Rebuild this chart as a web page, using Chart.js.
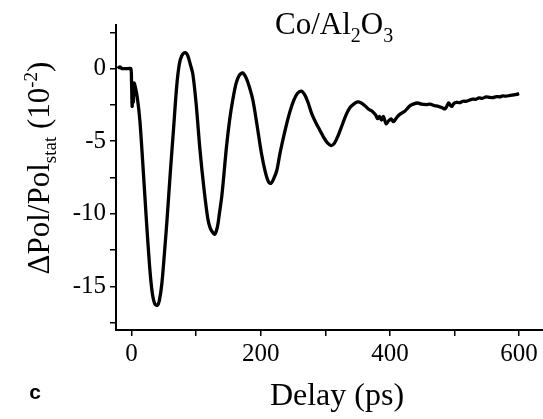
<!DOCTYPE html>
<html>
<head>
<meta charset="utf-8">
<script src="https://cdn.jsdelivr.net/npm/chart.js@4.4.1/dist/chart.umd.min.js"></script>
<style>
    body { margin: 0; background: #fff; }
    canvas { display: block; }
</style>
</head>
<body>
<canvas id="polChart" width="543" height="419"></canvas>
<script>
// delay in ps and the read-off signal (units of 10^-2)
const delayPs = [
    -21, -19, -17, -15, -10, -5, -1, 0, 1, 2, 3, 4, 6, 9, 13, 18, 23, 28, 32, 36,
    40, 43, 47, 51, 55, 60, 65, 70, 74, 78, 83, 87, 91, 95, 100, 106, 112, 118, 122, 126,
    129, 133, 136, 140, 147, 152, 157, 162, 167, 172, 177, 182, 188, 194, 201, 207, 212, 216, 220, 225,
    230, 238, 245, 251, 257, 263, 268, 273, 279, 285, 291, 297, 303, 309, 314, 320, 326, 332, 338, 344,
    350, 355, 361, 367, 373, 378, 381, 384, 387, 390, 394, 398, 402, 405, 407, 411, 415, 419, 423, 427,
    430, 436, 443, 449, 456, 462, 469, 475, 481, 485, 488, 491, 494, 496, 499, 503, 508, 513, 518, 523,
    528, 533, 538, 543, 549, 554, 559, 565, 570, 575, 580, 586, 591, 596, 600
];
const polChange = [
    0.0, 0.1, 0.1, 0.0, 0.0, 0.0, 0.0, -0.8, -2.6, -1.2, -2.3, -1.0, -1.3, -2.0, -3.6, -6.9, -10.4, -13.6, -15.4, -16.2,
    -16.3, -16.0, -14.8, -12.7, -10.4, -7.2, -4.2, -1.2, 0.3, 0.9, 1.1, 0.9, 0.3, -0.4, -2.4, -5.6, -8.2, -10.3, -11.0, -11.3,
    -11.4, -10.9, -10.0, -8.7, -5.4, -3.5, -2.1, -1.0, -0.45, -0.3, -0.6, -1.2, -2.2, -3.8, -5.8, -7.1, -7.8, -7.9, -7.6, -7.0,
    -5.8, -4.2, -3.0, -2.2, -1.7, -1.55, -1.8, -2.3, -3.1, -3.7, -4.2, -4.7, -5.1, -5.3, -5.15, -4.6, -3.9, -3.2, -2.7, -2.45,
    -2.3, -2.35, -2.55, -2.8, -2.95, -3.2, -3.45, -3.3, -3.55, -3.3, -3.8, -3.6, -3.47, -3.65, -3.6, -3.35, -3.17, -3.05, -2.94, -2.75,
    -2.6, -2.45, -2.37, -2.45, -2.48, -2.45, -2.55, -2.6, -2.7, -2.78, -2.6, -2.37, -2.55, -2.6, -2.4, -2.32, -2.35, -2.25, -2.25, -2.18,
    -2.1, -2.12, -2.02, -2.05, -1.95, -1.98, -2.0, -1.93, -1.95, -1.88, -1.9, -1.85, -1.82, -1.78, -1.72
];

const xTickValues = [0, 100, 200, 300, 400, 500, 600];
const xTickLabels = ['0', '', '200', '', '400', '', '600'];
const yTickValues = [2.5, 0, -2.5, -5, -7.5, -10, -12.5, -15, -17.5];
const yTickLabels = ['', '0', '', '-5', '', '-10', '', '-15', ''];

const serif = '"Liberation Serif", "Times New Roman", serif';

// draw a run of text pieces (normal / sub / sup) starting at x
function richWidth(ctx, parts) {
    let w = 0;
    parts.forEach(p => {
        ctx.font = p.size + 'px ' + serif;
        w += ctx.measureText(p.text).width;
    });
    return w;
}
function drawRich(ctx, parts, x, y) {
    parts.forEach(p => {
        ctx.font = p.size + 'px ' + serif;
        ctx.fillText(p.text, x, y + (p.dy || 0));
        x += ctx.measureText(p.text).width;
    });
}

const labelsPlugin = {
    id: 'labels',
    afterDraw(chart) {
        const ctx = chart.ctx;
        ctx.save();
        ctx.fillStyle = '#000';
        ctx.textBaseline = 'alphabetic';
        ctx.textAlign = 'left';

        // sample name
        drawRich(ctx, [
            { text: 'Co/Al', size: 31 },
            { text: '2', size: 20, dy: 8 },
            { text: 'O', size: 31 },
            { text: '3', size: 20, dy: 8 }
        ], 275, 34);

        // x title
        const xParts = [{ text: 'Delay (ps)', size: 32 }];
        drawRich(ctx, xParts, 337 - richWidth(ctx, xParts) / 2, 405);

        // y title, rotated
        const yParts = [
            { text: '\u0394Pol/Pol', size: 31 },
            { text: 'stat', size: 19, dy: 7 },
            { text: ' (10', size: 31 },
            { text: '-2', size: 19, dy: -12 },
            { text: ')', size: 31 }
        ];
        ctx.translate(49, 168);
        ctx.rotate(-Math.PI / 2);
        drawRich(ctx, yParts, -richWidth(ctx, yParts) / 2, 0);
        ctx.restore();

        // panel letter
        ctx.save();
        ctx.fillStyle = '#000';
        ctx.font = 'bold 21px "Liberation Sans", Arial, sans-serif';
        ctx.textAlign = 'center';
        ctx.textBaseline = 'alphabetic';
        ctx.fillText('c', 35, 399);
        ctx.restore();
    }
};

const ctx = document.getElementById('polChart').getContext('2d');
const polChart = new Chart(ctx, {
    type: 'line',
    data: {
        datasets: [{
            data: delayPs.map((t, i) => ({ x: t, y: polChange[i] })),
            borderColor: '#000',
            borderWidth: 3.3,
            pointRadius: 0,
            tension: 0.3,
            fill: false
        }]
    },
    options: {
        responsive: false,
        animation: false,
        layout: { padding: { top: 25, right: 0, left: 0, bottom: 0 } },
        plugins: {
            legend: { display: false },
            tooltip: { enabled: false }
        },
        scales: {
            x: {
                type: 'linear',
                min: -24,
                max: 637,
                afterBuildTicks: scale => { scale.ticks = xTickValues.map(v => ({ value: v })); },
                afterFit: scale => { scale.height = 89; },
                grid: { drawOnChartArea: false, color: '#000', tickColor: '#000', tickLength: 6, lineWidth: 1.5 },
                border: { display: true, color: '#000', width: 2 },
                ticks: {
                    color: '#000',
                    font: { family: serif, size: 25 },
                    padding: 3,
                    maxRotation: 0,
                    autoSkip: false,
                    callback: (v, i) => xTickLabels[i]
                }
            },
            y: {
                type: 'linear',
                min: -18,
                max: 3,
                afterBuildTicks: scale => { scale.ticks = yTickValues.map(v => ({ value: v })); },
                afterFit: scale => { scale.width = 116; },
                grid: { drawOnChartArea: false, color: '#000', tickColor: '#000', tickLength: 6, lineWidth: 1.5 },
                border: { display: true, color: '#000', width: 2 },
                ticks: {
                    color: '#000',
                    font: { family: serif, size: 25 },
                    padding: 4,
                    autoSkip: false,
                    callback: (v, i) => yTickLabels[i]
                }
            }
        }
    },
    plugins: [labelsPlugin]
});
</script>
</body>
</html>
